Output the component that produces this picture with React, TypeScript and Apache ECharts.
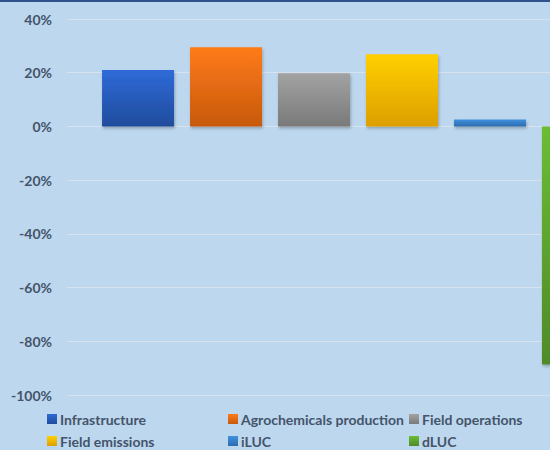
import React, { useEffect, useRef } from "react";
import * as echarts from "echarts";

const categories = [""];
const seriesNames = ["Infrastructure", "Agrochemicals production", "Field operations", "Field emissions", "iLUC", "dLUC"];
const infrastructure = [21];
const agrochemicals = [29.5];
const fieldOperations = [19.8];
const fieldEmissions = [26.9];
const iluc = [2.6];
const dluc = [-88.6];
const yTicks = { min: -100, max: 40, step: 20 };

const colorStops: [string, string][] = [
  ["#2f6ad8", "#1f4c9c"],
  ["#ff7b16", "#c7590e"],
  ["#a2a2a2", "#7a7a7a"],
  ["#ffd000", "#dd9f00"],
  ["#3f91e0", "#2d6cae"],
  ["#6bbd33", "#4f8a29"],
];

const legendPos = [
  { left: 47, top: 412 },
  { left: 228, top: 412 },
  { left: 409, top: 412 },
  { left: 47, top: 434 },
  { left: 228, top: 434 },
  { left: 409, top: 434 },
];

export default function App() {
  const ref = useRef<HTMLDivElement>(null);
  useEffect(() => {
    if (!ref.current) return;
    const chart = echarts.init(ref.current, undefined, { renderer: "svg" });
    const values = [infrastructure, agrochemicals, fieldOperations, fieldEmissions, iluc, dluc];
    const font = "Lato, 'Open Sans', sans-serif";
    const series = seriesNames.map((name, i) => ({
      name,
      type: "bar" as const,
      data: values[i],
      barWidth: 72,
      barGap: "22.2%",
      itemStyle: {
        color: new echarts.graphic.LinearGradient(0, 0, 0, 1, [
          { offset: 0, color: colorStops[i][0] },
          { offset: 1, color: colorStops[i][1] },
        ]),
        shadowBlur: 3,
        shadowOffsetY: 2,
        shadowOffsetX: 1,
        shadowColor: "rgba(0,0,0,0.25)",
      },
    }));
    const legends = seriesNames.map((name, i) => ({
      data: [name],
      left: legendPos[i].left,
      top: legendPos[i].top,
      icon: "rect",
      itemWidth: 10,
      itemHeight: 10,
      itemGap: 0,
      padding: 0,
      selectedMode: false,
      textStyle: { fontFamily: font, fontWeight: "bold", fontSize: 14, color: "#44546a", padding: [0, 0, 0, -2] },
    }));
    chart.setOption({
      animation: false,
      backgroundColor: "#bdd7ee",
      grid: { left: 67, top: 19, width: 582, height: 376, containLabel: false },
      xAxis: {
        type: "category",
        data: categories,
        axisLine: { show: false },
        axisTick: { show: false },
        axisLabel: { show: false },
      },
      yAxis: {
        type: "value",
        min: yTicks.min,
        max: yTicks.max,
        interval: yTicks.step,
        axisLine: { show: false },
        axisTick: { show: false },
        axisLabel: {
          formatter: "{value}%",
          margin: 15,
          fontFamily: font,
          fontWeight: "bold",
          fontSize: 14,
          color: "#44546a",
        },
        splitLine: { lineStyle: { color: "#d9e3ee", width: 1.2 } },
      },
      legend: legends,
      graphic: [
        { type: "rect", left: 0, top: 0, shape: { x: 0, y: 0, width: 700, height: 2 }, style: { fill: "#2f528f" } },
      ],
      series,
    });
    return () => chart.dispose();
  }, []);
  return (
    <div style={{ position: "absolute", left: 0, top: 0, width: 550, height: 450, overflow: "hidden" }}>
      <div ref={ref} style={{ width: 680, height: 450 }} />
    </div>
  );
}
